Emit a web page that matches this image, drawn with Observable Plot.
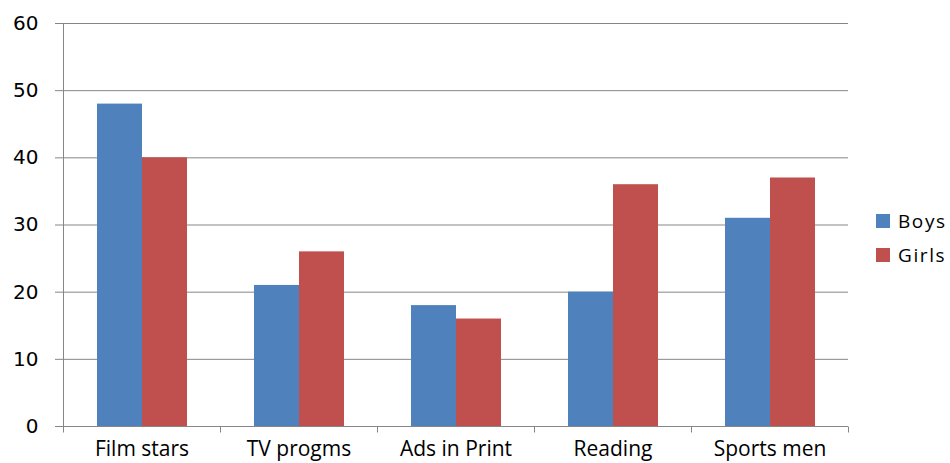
<!DOCTYPE html>
<html>
<head>
<meta charset="utf-8">
<script src="https://cdn.jsdelivr.net/npm/d3@7"></script>
<script src="https://cdn.jsdelivr.net/npm/@observablehq/plot@0.6"></script>
<style>
  body { margin: 0; background: #fff; }
  #chart { position: relative; width: 950px; height: 463px; }
  .legend { position: absolute; left: 876px; top: 204px; font-family: "Open Sans", sans-serif; font-size: 19px; color: #000; }
  .legend .row { height: 34px; display: flex; align-items: center; }
  .legend .sw { width: 14px; height: 14px; margin-right: 8px; }
  .legend .lbl { letter-spacing: 1.6px; }
</style>
</head>
<body>
<div id="chart"></div>
<script>
// Survey: sources of influence, by boys and girls
const categories = ["Film stars", "TV progms", "Ads in Print", "Reading", "Sports men"];
const series = ["Boys", "Girls"];
const boys = [48, 21, 18, 20, 31];
const girls = [40, 26, 16, 36, 37];
const seriesColors = ["#4F81BD", "#C0504D"];
const yTicks = [0, 10, 20, 30, 40, 50, 60];

const rows = categories.flatMap((c, i) => [
  {category: c, series: "Boys", value: boys[i]},
  {category: c, series: "Girls", value: girls[i]}
]);

const gray = "#868686";

const chart = Plot.plot({
  width: 950,
  height: 463,
  marginLeft: 63,
  marginRight: 102,
  marginTop: 23,
  marginBottom: 37,
  style: {fontFamily: "DejaVu Sans", background: "#fff", overflow: "visible"},
  fx: {domain: categories, padding: 0, label: null},
  x: {domain: series, paddingInner: 0, paddingOuter: 0.744, axis: null},
  y: {domain: [0, 60], label: null},
  color: {domain: series, range: seriesColors},
  marks: [
    Plot.gridY(yTicks, {stroke: gray, strokeOpacity: 1}),
    Plot.barY(rows, {fx: "category", x: "series", y: "value", fill: "series"}),
    Plot.axisY(yTicks, {tickSize: 8, tickPadding: 17, stroke: gray, fill: "#000", fontSize: 20, letterSpacing: 0.5, label: null}),
    Plot.axisFx({anchor: "bottom", tickSize: 0, tickPadding: 15, fontSize: 21, fontFamily: "Open Sans", fill: "#000", label: null, letterSpacing: 1.2})
  ]
});

document.getElementById("chart").appendChild(chart);

// Vertical axis line and the category boundary ticks along the baseline
const fxS = chart.scale("fx");
const yS = chart.scale("y");
const fxBand = d3.scaleBand(fxS.domain, fxS.range)
  .paddingInner(fxS.paddingInner ?? 0)
  .paddingOuter(fxS.paddingOuter ?? 0)
  .align(fxS.align ?? 0.5);
const yLin = d3.scaleLinear(yS.domain, yS.range);
const y0 = yLin(0), yTop = yLin(60);
const edges = [fxBand(categories[0]), ...categories.map(c => fxBand(c) + fxBand.bandwidth())];
const g = d3.select(chart).append("g").attr("stroke", gray).attr("stroke-width", 1);
g.append("line")
  .attr("x1", edges[0] + 0.5).attr("x2", edges[0] + 0.5)
  .attr("y1", yTop + 0.5).attr("y2", y0 + 6.5);
g.selectAll(".edge").data(edges.slice(1)).join("line")
  .attr("x1", d => d + 0.5).attr("x2", d => d + 0.5)
  .attr("y1", y0 + 0.5).attr("y2", y0 + 6.5);

// Legend built from the color scale
const colorS = chart.scale("color");
const legend = document.createElement("div");
legend.className = "legend";
series.forEach(s => {
  const row = document.createElement("div");
  row.className = "row";
  const sw = document.createElement("span");
  sw.className = "sw";
  sw.style.background = colorS.apply(s);
  const lbl = document.createElement("span");
  lbl.className = "lbl";
  lbl.textContent = s;
  row.append(sw, lbl);
  legend.appendChild(row);
});
document.getElementById("chart").appendChild(legend);
</script>
</body>
</html>
